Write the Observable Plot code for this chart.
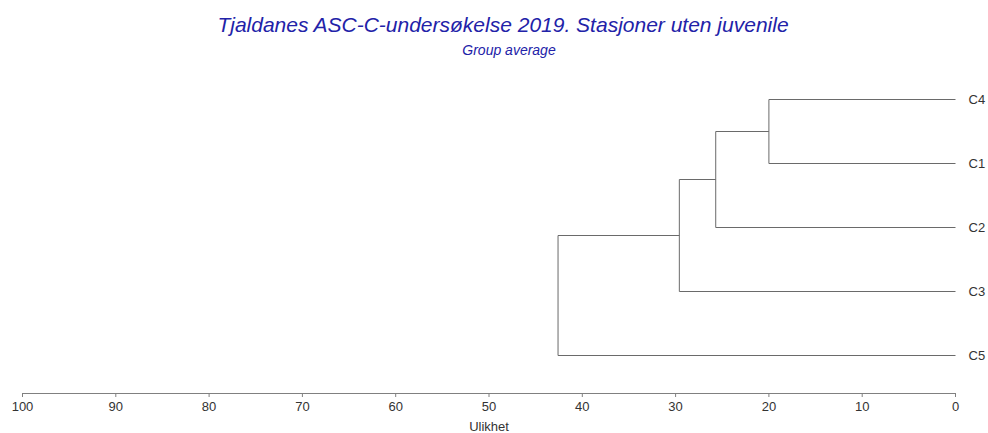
<!DOCTYPE html>
<html>
<head>
<meta charset="utf-8">
<script src="https://cdn.jsdelivr.net/npm/d3@7"></script>
<script src="https://cdn.jsdelivr.net/npm/@observablehq/plot@0.6"></script>
<style>
  body { margin: 0; background: #fff; font-family: Arial, "Liberation Sans", sans-serif; }
  #wrap { width: 988px; }
  .title { height: 28px; padding-top: 11px; text-align: center; font-style: italic; font-size: 21px; color: #2222a8; padding-left: 18px; line-height: 28px; }
  .subtitle { height: 22px; text-align: center; font-style: italic; font-size: 14px; color: #2222a8; padding-left: 30px; line-height: 22px; }
  svg { display: block; }
</style>
</head>
<body>
<div id="wrap">
  <div class="title">Tjaldanes ASC-C-undersøkelse 2019. Stasjoner uten juvenile</div>
  <div class="subtitle">Group average</div>
  <div id="chart"></div>
</div>
<script>
// Leaf order (top to bottom)
const leaves = ["C4", "C1", "C2", "C3", "C5"];
// Merge steps: [left member, right member, dissimilarity]
const mergeA = ["C4", "N1", "N2", "N3"];
const mergeB = ["C1", "C2", "C3", "C5"];
const mergeHeight = [20.0, 25.7, 29.6, 42.6];
const tickValues = [100, 90, 80, 70, 60, 50, 40, 30, 20, 10, 0];
const axisLabel = "Ulikhet";

// Build node positions from the data
const pos = {};
leaves.forEach((name, i) => { pos[name] = { x: 0, y: i }; });
const segments = [];
mergeA.forEach((a, i) => {
  const b = mergeB[i];
  const h = mergeHeight[i];
  const pa = pos[a], pb = pos[b];
  segments.push({ x1: pa.x, y1: pa.y, x2: h, y2: pa.y });
  segments.push({ x1: pb.x, y1: pb.y, x2: h, y2: pb.y });
  segments.push({ x1: h, y1: pa.y, x2: h, y2: pb.y });
  pos["N" + (i + 1)] = { x: h, y: (pa.y + pb.y) / 2 };
});
const leafData = leaves.map((name, i) => ({ name, y: i }));

const chart = Plot.plot({
  width: 988,
  height: 372,
  marginLeft: 22,
  marginRight: 33,
  marginTop: 0,
  marginBottom: 40,
  style: { fontFamily: "Arial, 'Liberation Sans', sans-serif", fontSize: "13px", color: "#333", background: "#fff" },
  x: { domain: [100, 0] },
  y: { domain: [0, 4], range: [38, 294], axis: null },
  marks: [
    Plot.frame({ anchor: "bottom", stroke: "#808080" }),
    Plot.axisX({ ticks: tickValues, tickSize: 4, tickPadding: 4, stroke: "#808080", fill: "#333",
                 label: axisLabel, labelAnchor: "center", labelArrow: "none", labelOffset: 37 }),
    Plot.link(segments, { x1: "x1", y1: "y1", x2: "x2", y2: "y2", stroke: "#6a6a6a", strokeWidth: 1 }),
    Plot.text(leafData, { x: 0, y: "y", text: "name", textAnchor: "start", dx: 13, fill: "#333", fontSize: 13 })
  ]
});
document.getElementById("chart").append(chart);
</script>
</body>
</html>
